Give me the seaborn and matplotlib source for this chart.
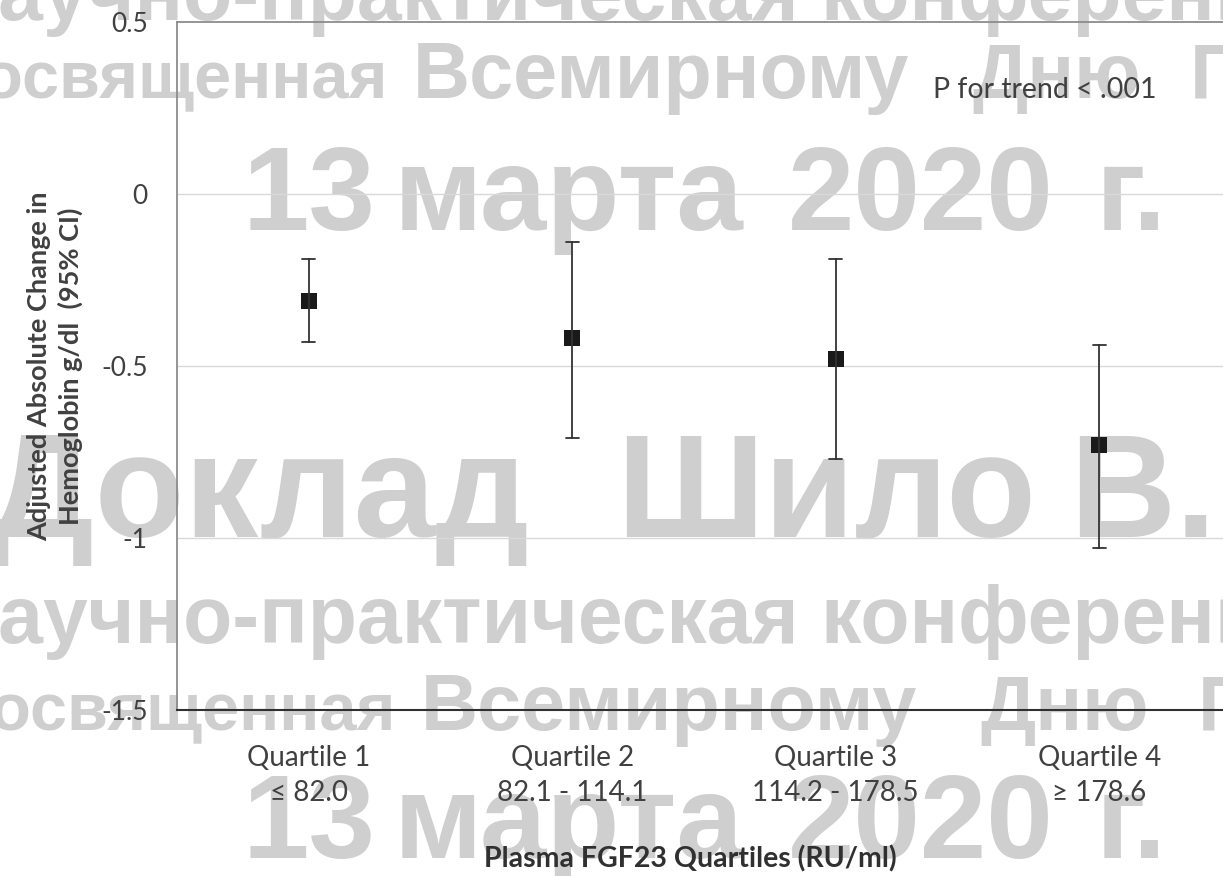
import matplotlib
matplotlib.use("Agg")
import matplotlib.pyplot as plt
import pandas as pd
import seaborn as sns

# values (adjusted change in hemoglobin, g/dl)
quartiles = ["Quartile 1", "Quartile 2", "Quartile 3", "Quartile 4"]
ranges = ["≤ 82.0", "82.1 - 114.1", "114.2 - 178.5", "≥ 178.6"]
change = [-0.31, -0.42, -0.48, -0.73]
ci_low = [-0.43, -0.71, -0.77, -1.03]
ci_high = [-0.19, -0.14, -0.19, -0.44]

y_ticks = [-1.5, -1, -0.5, 0, 0.5]
y_ticklabels = ["-1.5", "-1", "-0.5", "0", "0.5"]

# long form: low / point / high per quartile -> median + full range gives point and CI
rows = []
for q, lo, mid, hi in zip(quartiles, ci_low, change, ci_high):
    for v in (lo, mid, hi):
        rows.append({"quartile": q, "value": v})
df = pd.DataFrame(rows)

sns.set_style("white")
plt.rcParams["font.family"] = ["Lato", "DejaVu Sans"]

W, H = 1223, 876
fig = plt.figure(figsize=(W / 100, H / 100), dpi=100, facecolor="white")
ax = fig.add_axes([177 / W, 1 - 710 / H, 1054 / W, 688 / H])
ax.patch.set_alpha(0)

# watermark, behind the axes
wm_color = "#cfcfcf"
watermark = [
    # text, x px, baseline px, size pt, align
    ("Научно-практическая конференция", -60, 20, 58, "left"),
    ("посвященная", 388, 98, 48, "right"),
    ("Всемирному", 413, 98, 57, "left"),
    ("Дню", 972, 98, 56, "left"),
    ("Почки", 1190, 98, 56, "left"),
    ("13", 242, 230, 86, "left"),
    ("марта", 394, 230, 86, "left"),
    ("2020", 788, 230, 86, "left"),
    ("г.", 1096, 230, 86, "left"),
    ("Доклад", 530, 537, 106, "right"),
    ("Шило", 616, 537, 106, "left"),
    ("В.Ю.", 1069, 537, 106, "left"),
    ("Научно-практическая конференция", -60, 643, 58, "left"),
    ("посвященная", 396, 730, 48, "right"),
    ("Всемирному", 421, 730, 57, "left"),
    ("Дню", 980, 730, 56, "left"),
    ("Почки", 1198, 730, 56, "left"),
    ("13", 242, 858, 86, "left"),
    ("марта", 394, 858, 86, "left"),
    ("2020", 788, 858, 86, "left"),
    ("г.", 1096, 858, 86, "left"),
]
for txt, px, py, size, align in watermark:
    fig.text(px / W, 1 - py / H, txt, fontsize=size, color=wm_color,
             fontweight="bold", family=["Liberation Sans", "DejaVu Sans"],
             ha=align, va="baseline", zorder=-5)

for y in [0, -0.5, -1]:
    ax.axhline(y, color="#d9d9d9", linewidth=1.0, zorder=0)

sns.pointplot(data=df, x="quartile", y="value", order=quartiles,
              estimator="median", errorbar=("pi", 100),
              color="#1a1a1a", marker="s", markersize=11, markeredgewidth=0,
              linestyle="none", capsize=0.05,
              err_kws={"linewidth": 1.3, "color": "#333333"}, ax=ax)

ax.set_xlim(-0.5, 3.5)
ax.set_ylim(-1.5, 0.5)
ax.set_yticks(y_ticks)
ax.set_yticklabels(y_ticklabels)
ax.set_xticks(range(len(quartiles)))
ax.set_xticklabels([f"{q}\n{r}" for q, r in zip(quartiles, ranges)],
                   linespacing=1.45)
ax.tick_params(axis="x", length=0, pad=25, labelsize=20, labelcolor="#404040")
ax.tick_params(axis="y", length=0, pad=21, labelsize=19, labelcolor="#404040")

for side in ["left", "top"]:
    ax.spines[side].set_color("#8c8c8c")
    ax.spines[side].set_linewidth(1.3)
ax.spines["bottom"].set_color("#303030")
ax.spines["bottom"].set_linewidth(1.5)
ax.spines["right"].set_visible(False)

ax.set_ylabel("Adjusted Absolute Change in\nHemoglobin g/dl  (95% CI)",
              fontsize=19.5, fontweight="bold", color="#404040", linespacing=1.3)
ax.yaxis.set_label_coords(-0.089, 0.5)
ax.set_xlabel("Plasma FGF23 Quartiles (RU/ml)", fontsize=20.5,
              fontweight="bold", color="#303030")
ax.xaxis.set_label_coords(0.487, -0.196)

ax.text(0.717, 0.901, "P for trend < .001", transform=ax.transAxes,
        fontsize=20.5, color="#404040", ha="left", va="center")

fig.savefig("out.png", dpi=100, facecolor="white")
